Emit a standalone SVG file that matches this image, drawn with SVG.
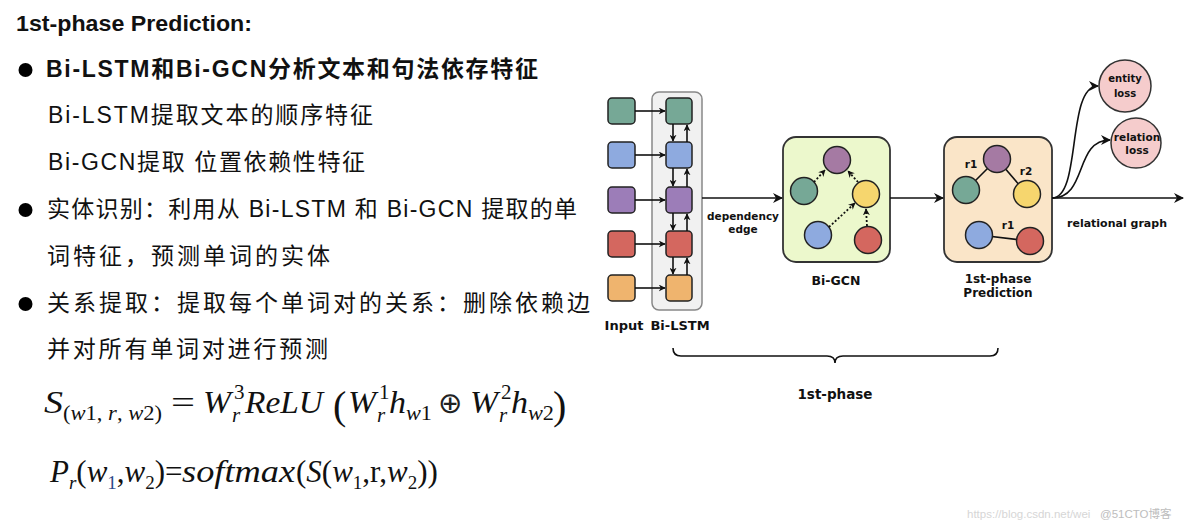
<svg xmlns="http://www.w3.org/2000/svg" width="1184" height="530" viewBox="0 0 1184 530">
<style>
.t{font-family:"Liberation Sans","Noto Sans CJK SC",sans-serif;fill:#111}
.tb{font-weight:bold}
.m{font-family:"Liberation Serif","DejaVu Serif",serif;font-size:31px;fill:#111}
.ms{font-family:"Liberation Serif","DejaVu Serif",serif;font-size:21px;fill:#111}
.i{font-style:italic}
.lbl{font-family:"DejaVu Sans",Verdana,sans-serif;font-weight:bold;fill:#111;text-anchor:middle}
.sq{stroke:#222;stroke-width:1.5}
.cn{stroke:#222;stroke-width:1.5}
.teal{fill:#76a896}.blue{fill:#8eaadf}.purple{fill:#9c7db8}.mauve{fill:#a57aa3}.red{fill:#d4675f}.orange{fill:#efb46e}.yellow{fill:#f6d66e}
.ln{stroke:#111;stroke-width:1.6;fill:none}
.dot{stroke:#111;stroke-width:1.8;fill:none;stroke-dasharray:2 2}
</style>
<defs>
<marker id="ah" viewBox="0 0 10 10" refX="9" refY="5" markerWidth="10" markerHeight="10" markerUnits="userSpaceOnUse" orient="auto"><path d="M0,0 L10,5 L0,10 L3,5 Z" fill="#111"/></marker>
<marker id="ahs" viewBox="0 0 10 10" refX="9" refY="5" markerWidth="7" markerHeight="7" markerUnits="userSpaceOnUse" orient="auto"><path d="M0,0 L10,5 L0,10 L3,5 Z" fill="#111"/></marker>
</defs>
<rect width="1184" height="530" fill="#fff"/>

<g id="text-left">
<text class="t tb" x="16" y="31" font-size="22" textLength="236" lengthAdjust="spacingAndGlyphs">1st-phase Prediction:</text>
<circle cx="25.5" cy="70" r="7" fill="#000"/>
<text class="t tb" x="46" y="77" font-size="23" textLength="492">Bi-LSTM和Bi-GCN分析文本和句法依存特征</text>
<text class="t" x="48" y="123" font-size="23" textLength="325">Bi-LSTM提取文本的顺序特征</text>
<text class="t" x="48" y="170" font-size="23" textLength="317">Bi-GCN提取 位置依赖性特征</text>
<circle cx="25.5" cy="210" r="7" fill="#000"/>
<text class="t" x="47" y="217" font-size="23" textLength="530">实体识别：利用从 Bi-LSTM 和 Bi-GCN 提取的单</text>
<text class="t" x="47" y="264" font-size="23" textLength="283">词特征，预测单词的实体</text>
<circle cx="25.5" cy="304" r="7" fill="#000"/>
<text class="t" x="47" y="311" font-size="23" textLength="543">关系提取：提取每个单词对的关系：删除依赖边</text>
<text class="t" x="47" y="357" font-size="23" textLength="281">并对所有单词对进行预测</text>
</g>

<g id="formula1">
<text class="m i" x="44" y="413" textLength="19" lengthAdjust="spacingAndGlyphs">S</text>
<text class="ms" x="63" y="420" textLength="99" lengthAdjust="spacingAndGlyphs">(<tspan class="i">w</tspan>1, <tspan class="i">r</tspan>, <tspan class="i">w</tspan>2)</text>
<text class="m" x="171" y="413" textLength="24" lengthAdjust="spacingAndGlyphs">=</text>
<text class="m i" x="203" y="413" textLength="28" lengthAdjust="spacingAndGlyphs">W</text>
<text class="ms" x="234" y="399">3</text>
<text class="ms i" x="232" y="422">r</text>
<text class="m i" x="245" y="413" textLength="78" lengthAdjust="spacingAndGlyphs">ReLU</text>
<text class="m" x="333" y="419" style="font-size:40px">(</text>
<text class="m i" x="348" y="413" textLength="28" lengthAdjust="spacingAndGlyphs">W</text>
<text class="ms" x="379" y="399">1</text>
<text class="ms i" x="377" y="422">r</text>
<text class="m i" x="389" y="413" textLength="17" lengthAdjust="spacingAndGlyphs">h</text>
<text class="ms" x="406" y="420" textLength="26" lengthAdjust="spacingAndGlyphs"><tspan class="i">w</tspan>1</text>
<text x="438" y="413" font-family="'DejaVu Sans',sans-serif" font-size="29" fill="#222">⊕</text>
<text class="m i" x="470" y="413" textLength="28" lengthAdjust="spacingAndGlyphs">W</text>
<text class="ms" x="501" y="399">2</text>
<text class="ms i" x="499" y="422">r</text>
<text class="m i" x="511" y="413" textLength="17" lengthAdjust="spacingAndGlyphs">h</text>
<text class="ms" x="528" y="420" textLength="26" lengthAdjust="spacingAndGlyphs"><tspan class="i">w</tspan>2</text>
<text class="m" x="553" y="419" style="font-size:40px">)</text>
</g>

<g id="formula2">
<text class="m" y="482"><tspan x="50" class="i">P</tspan><tspan font-size="19" class="i" dy="7">r</tspan><tspan dy="-7">(</tspan><tspan class="i">w</tspan><tspan font-size="19" dy="7" fill="#2b4a8a">1</tspan><tspan dy="-7">,</tspan><tspan class="i">w</tspan><tspan font-size="19" dy="7">2</tspan><tspan dy="-7">)=</tspan></text>
<text class="m i" x="182" y="482" textLength="113" lengthAdjust="spacingAndGlyphs">softmax</text>
<text class="m" x="296" y="482">(<tspan class="i">S</tspan>(<tspan class="i">w</tspan><tspan font-size="19" dy="7">1</tspan><tspan dy="-7">,r,</tspan><tspan class="i">w</tspan><tspan font-size="19" dy="7">2</tspan><tspan dy="-7">))</tspan></text>
</g>

<g id="input">
<rect class="sq teal" x="608" y="98" width="27" height="26" rx="4"/>
<rect class="sq blue" x="608" y="142" width="27" height="26" rx="4"/>
<rect class="sq purple" x="608" y="187" width="27" height="26" rx="4"/>
<rect class="sq red" x="608" y="231" width="27" height="26" rx="4"/>
<rect class="sq orange" x="608" y="275" width="27" height="26" rx="4"/>
<text class="lbl" x="624" y="330" font-size="13">Input</text>
</g>

<g id="bilstm">
<rect x="652" y="92" width="50" height="218" rx="7" fill="#f1f1f1" stroke="#888" stroke-width="1.5"/>
<rect class="sq teal" x="666" y="98" width="26" height="26" rx="4"/>
<rect class="sq blue" x="666" y="142" width="26" height="26" rx="4"/>
<rect class="sq purple" x="666" y="187" width="26" height="26" rx="4"/>
<rect class="sq red" x="666" y="231" width="26" height="26" rx="4"/>
<rect class="sq orange" x="666" y="275" width="26" height="26" rx="4"/>
<text class="lbl" x="680" y="330" font-size="13">Bi-LSTM</text>
</g>

<g id="bigcn">
<rect x="783" y="137" width="107" height="125" rx="13" fill="#ecf8cc" stroke="#333" stroke-width="1.8"/>
<circle class="cn mauve" cx="837" cy="160" r="13.5"/>
<circle class="cn teal" cx="804" cy="191" r="13.5"/>
<circle class="cn yellow" cx="866" cy="194" r="13.5"/>
<circle class="cn blue" cx="818" cy="235" r="13.5"/>
<circle class="cn red" cx="868" cy="240" r="13.5"/>
<path class="dot" d="M814,182 L825,170" marker-end="url(#ahs)"/>
<path class="dot" d="M858,182 L848,171" marker-end="url(#ahs)"/>
<path class="dot" d="M829,227 L855,203" marker-end="url(#ahs)"/>
<path class="dot" d="M867,226 L866,209" marker-end="url(#ahs)"/>
<text class="lbl" x="836" y="285" font-size="12.5">Bi-GCN</text>
</g>

<g id="phase1">
<rect x="944" y="137" width="108" height="125" rx="13" fill="#fae5c8" stroke="#333" stroke-width="1.8"/>
<line class="ln" x1="966" y1="190" x2="997" y2="159"/>
<line class="ln" x1="997" y1="159" x2="1027" y2="194"/>
<line class="ln" x1="979" y1="235" x2="1030" y2="241"/>
<circle class="cn mauve" cx="997" cy="159" r="13.5"/>
<circle class="cn teal" cx="966" cy="190" r="13.5"/>
<circle class="cn yellow" cx="1027" cy="194" r="13.5"/>
<circle class="cn blue" cx="979" cy="235" r="13.5"/>
<circle class="cn red" cx="1030" cy="241" r="13.5"/>
<text class="lbl" x="971" y="168" font-size="10.5">r1</text>
<text class="lbl" x="1026" y="175" font-size="10.5">r2</text>
<text class="lbl" x="1008" y="229" font-size="10.5">r1</text>
<text class="lbl" x="998" y="283" font-size="12">1st-phase</text>
<text class="lbl" x="998" y="297" font-size="12">Prediction</text>
</g>

<g id="entity-loss">
<circle cx="1125" cy="86" r="26" fill="#f5cccc" stroke="#333" stroke-width="1.5"/>
<text class="lbl" x="1125" y="82" font-size="10">entity</text>
<text class="lbl" x="1125" y="97" font-size="10">loss</text>
</g>
<g id="relation-loss">
<circle cx="1136" cy="143" r="25" fill="#f5cccc" stroke="#333" stroke-width="1.5"/>
<text class="lbl" x="1137" y="141" font-size="10.5">relation</text>
<text class="lbl" x="1137" y="154" font-size="10.5">loss</text>
</g>

<g id="connectors">
<line class="ln" x1="635" y1="111" x2="665" y2="111" stroke-width="1.2" marker-end="url(#ahs)"/>
<line class="ln" x1="635" y1="155" x2="665" y2="155" stroke-width="1.2" marker-end="url(#ahs)"/>
<line class="ln" x1="635" y1="200" x2="665" y2="200" stroke-width="1.2" marker-end="url(#ahs)"/>
<line class="ln" x1="635" y1="244" x2="665" y2="244" stroke-width="1.2" marker-end="url(#ahs)"/>
<line class="ln" x1="635" y1="288" x2="665" y2="288" stroke-width="1.2" marker-end="url(#ahs)"/>
<line class="ln" x1="673" y1="124" x2="673" y2="141" stroke-width="1.2" marker-end="url(#ahs)"/>
<line class="ln" x1="687" y1="142" x2="687" y2="125" stroke-width="1.2" marker-end="url(#ahs)"/>
<line class="ln" x1="673" y1="168" x2="673" y2="186" stroke-width="1.2" marker-end="url(#ahs)"/>
<line class="ln" x1="687" y1="187" x2="687" y2="169" stroke-width="1.2" marker-end="url(#ahs)"/>
<line class="ln" x1="673" y1="213" x2="673" y2="230" stroke-width="1.2" marker-end="url(#ahs)"/>
<line class="ln" x1="687" y1="231" x2="687" y2="214" stroke-width="1.2" marker-end="url(#ahs)"/>
<line class="ln" x1="673" y1="257" x2="673" y2="274" stroke-width="1.2" marker-end="url(#ahs)"/>
<line class="ln" x1="687" y1="275" x2="687" y2="258" stroke-width="1.2" marker-end="url(#ahs)"/>
<line class="ln" x1="702" y1="198" x2="782" y2="198" marker-end="url(#ah)"/>
<text class="lbl" x="743" y="220" font-size="10.5">dependency</text>
<text class="lbl" x="743" y="233" font-size="10.5">edge</text>
<line class="ln" x1="890" y1="198" x2="943" y2="198" marker-end="url(#ah)"/>
<line class="ln" x1="1052" y1="198" x2="1183" y2="198" marker-end="url(#ah)"/>
<path class="ln" d="M1052,198 C1082,198 1066,86 1098,86" marker-end="url(#ah)"/>
<path class="ln" d="M1052,198 C1088,198 1074,140 1110,140" marker-end="url(#ah)"/>
<text class="lbl" x="1117" y="227" font-size="11">relational graph</text>
</g>

<g id="bracket">
<path class="ln" d="M673,348 Q673,356 681,356 L827,356 Q835,356 835,363 Q835,356 843,356 L990,356 Q998,356 998,348" stroke="#333"/>
<text class="lbl" x="835" y="399" font-size="13.5">1st-phase</text>
</g>

<g id="watermark">
<text x="967" y="518" font-family="Liberation Sans,sans-serif" font-size="11.5" fill="#d6d6d6">https://blog.csdn.net/wei</text>
<text x="1100" y="518" font-family="Liberation Sans,'Noto Sans CJK SC',sans-serif" font-size="11.5" fill="#bdbdbd">@51CTO博客</text>
</g>
</svg>
